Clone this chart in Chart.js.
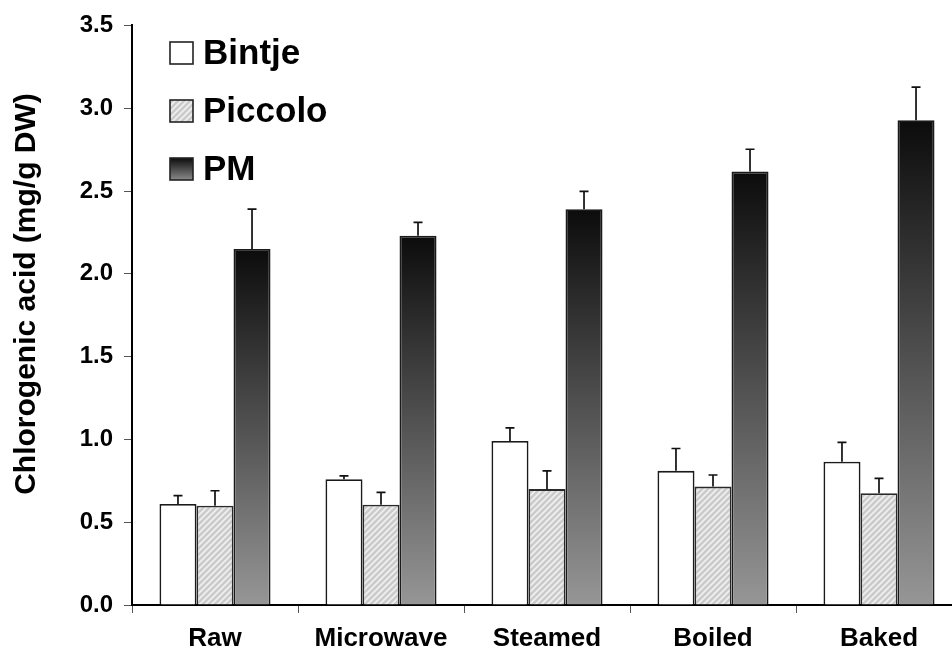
<!DOCTYPE html>
<html>
<head>
<meta charset="utf-8">
<script src="https://cdn.jsdelivr.net/npm/chart.js@4.4.1/dist/chart.umd.min.js"></script>
<style>
    html, body { margin: 0; padding: 0; background: #fff; overflow: hidden; }
    canvas { display: block; }
</style>
</head>
<body>
<canvas id="chlorogenicChart" width="990" height="657"></canvas>
<script>
// data
const categories = ['Raw', 'Microwave', 'Steamed', 'Boiled', 'Baked'];
const seriesNames = ['Bintje', 'Piccolo', 'PM'];
const bintje = [0.61, 0.76, 0.99, 0.81, 0.865];
const bintjeErr = [0.05, 0.02, 0.08, 0.135, 0.117];
const piccolo = [0.60, 0.605, 0.70, 0.715, 0.675];
const piccoloErr = [0.09, 0.075, 0.11, 0.07, 0.09];
const pm = [2.15, 2.23, 2.39, 2.617, 2.927];
const pmErr = [0.24, 0.08, 0.108, 0.135, 0.2];
const yMin = 0, yMax = 3.5, yStep = 0.5;
const yTitle = 'Chlorogenic acid (mg/g DW)';

const FONT = "'Liberation Sans', Arial, sans-serif";

// hatched fill for Piccolo
function makeHatch() {
    let c = document.createElement('canvas');
    c.width = 6;
    c.height = 6;
    let g = c.getContext('2d');
    g.fillStyle = '#cbcbcb';
    g.fillRect(0, 0, 6, 6);
    g.strokeStyle = '#f0f0f0';
    g.lineWidth = 1.6;
    g.beginPath();
    g.moveTo(0, 6); g.lineTo(6, 0);
    g.moveTo(-1, 1); g.lineTo(1, -1);
    g.moveTo(5, 7); g.lineTo(7, 5);
    g.stroke();
    return g.createPattern(c, 'repeat');
}
const hatch = makeHatch();

// vertical gradient per PM bar, black at the top
function pmFill(context) {
    let chart = context.chart;
    if (!chart.chartArea || context.type !== 'data') return '#555';
    let y = chart.scales.y;
    let top = y.getPixelForValue(context.raw);
    let bottom = y.getPixelForValue(0);
    let grad = chart.ctx.createLinearGradient(0, top, 0, bottom);
    grad.addColorStop(0, '#0c0c0c');
    grad.addColorStop(1, '#969696');
    return grad;
}

const errors = [bintjeErr, piccoloErr, pmErr];

const errorBars = {
    id: 'errorBars',
    afterDatasetsDraw(chart) {
        let ctx = chart.ctx;
        let y = chart.scales.y;
        ctx.save();
        ctx.strokeStyle = '#111';
        ctx.lineWidth = 1.7;
        chart.data.datasets.forEach((ds, i) => {
            let meta = chart.getDatasetMeta(i);
            meta.data.forEach((bar, j) => {
                let yTop = y.getPixelForValue(ds.data[j] + errors[i][j]);
                ctx.beginPath();
                ctx.moveTo(bar.x, bar.y);
                ctx.lineTo(bar.x, yTop);
                ctx.moveTo(bar.x - 4.5, yTop);
                ctx.lineTo(bar.x + 4.5, yTop);
                ctx.stroke();
            });
        });
        ctx.restore();
    }
};

// legend inside the plot + rotated y title
const decorations = {
    id: 'decorations',
    afterDraw(chart) {
        let ctx = chart.ctx;
        ctx.save();
        let rows = [53, 111, 169];
        chart.data.datasets.forEach((ds, i) => {
            let cy = rows[i];
            let bx = 170, by = cy - 11, bw = 23, bh = 22;
            if (i === 2) {
                let g = ctx.createLinearGradient(0, by, 0, by + bh);
                g.addColorStop(0, '#0c0c0c');
                g.addColorStop(1, '#8a8a8a');
                ctx.fillStyle = g;
            } else {
                ctx.fillStyle = i === 1 ? hatch : '#fff';
            }
            ctx.fillRect(bx, by, bw, bh);
            ctx.strokeStyle = '#222';
            ctx.lineWidth = 1.6;
            ctx.strokeRect(bx, by, bw, bh);
            ctx.fillStyle = '#000';
            ctx.font = 'bold 35px ' + FONT;
            ctx.textBaseline = 'middle';
            ctx.textAlign = 'left';
            ctx.fillText(ds.label, 203, cy + 1);
        });

        ctx.translate(27, 294);
        ctx.rotate(-Math.PI / 2);
        ctx.font = 'bold 30px ' + FONT;
        ctx.textAlign = 'center';
        ctx.textBaseline = 'middle';
        ctx.fillStyle = '#000';
        ctx.fillText(yTitle, 0, 0);
        ctx.restore();
    }
};

new Chart(document.getElementById('chlorogenicChart'), {
    type: 'bar',
    data: {
        labels: categories,
        datasets: [
            {label: seriesNames[0], data: bintje, backgroundColor: '#fff', borderColor: '#1a1a1a', borderWidth: 1.8},
            {label: seriesNames[1], data: piccolo, backgroundColor: hatch, borderColor: '#2a2a2a', borderWidth: 1.8},
            {label: seriesNames[2], data: pm, backgroundColor: pmFill, borderColor: '#1a1a1a', borderWidth: 1.8}
        ]
    },
    options: {
        responsive: false,
        animation: false,
        devicePixelRatio: 1,
        categoryPercentage: 0.669,
        barPercentage: 1.0,
        layout: {
            padding: {top: 20, right: 28, left: 0, bottom: 0}
        },
        scales: {
            x: {
                offset: true,
                afterFit: (scale) => { scale.height = 52; },
                grid: {
                    offset: true,
                    drawOnChartArea: false,
                    drawTicks: true,
                    tickLength: 8,
                    color: '#555'
                },
                border: {color: '#000', width: 2},
                ticks: {
                    color: '#000',
                    padding: 10,
                    maxRotation: 0,
                    font: {family: FONT, size: 26, weight: 'bold'}
                }
            },
            y: {
                min: yMin,
                max: yMax,
                afterFit: (scale) => { scale.width = 132; },
                grid: {
                    drawOnChartArea: false,
                    drawTicks: true,
                    tickLength: 8,
                    color: '#555'
                },
                border: {color: '#000', width: 2},
                ticks: {
                    stepSize: yStep,
                    color: '#000',
                    padding: 11,
                    font: {family: FONT, size: 24, weight: 'bold'},
                    callback: (v) => Number(v).toFixed(1)
                }
            }
        },
        plugins: {
            legend: {display: false},
            tooltip: {enabled: false},
            title: {display: false}
        }
    },
    plugins: [errorBars, decorations]
});
</script>
</body>
</html>
